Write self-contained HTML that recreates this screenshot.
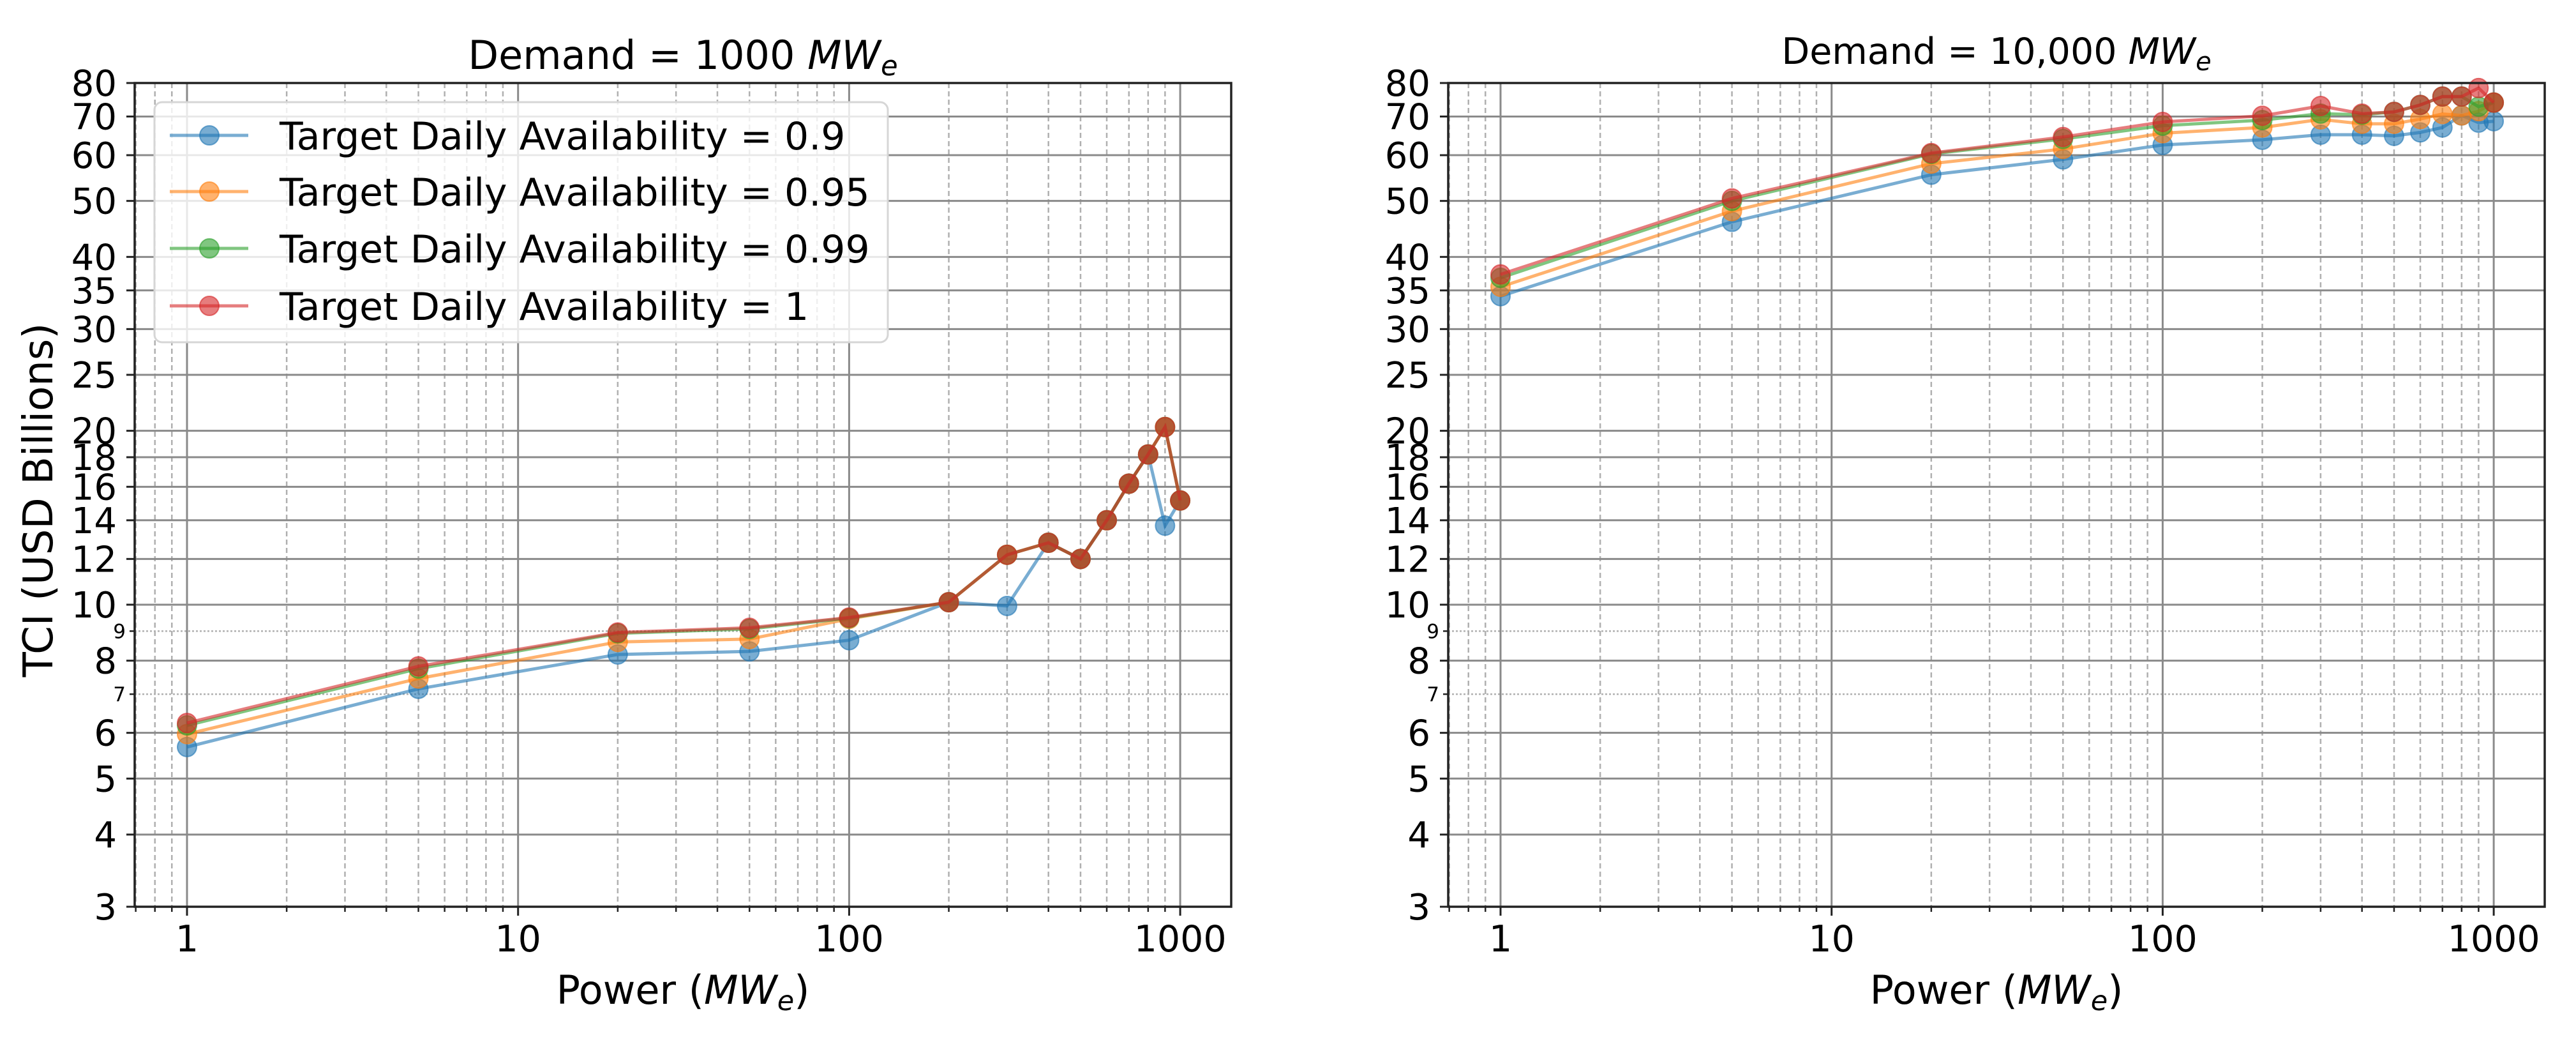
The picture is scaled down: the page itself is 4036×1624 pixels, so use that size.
<!DOCTYPE html>
<html><head><meta charset="utf-8"><style>
html,body{margin:0;padding:0;background:#fff;}
svg{display:block;font-family:"DejaVu Sans","Liberation Sans",sans-serif;}
</style></head><body>
<svg id="fig" width="4036" height="1624" viewBox="0 0 4036 1624" xmlns="http://www.w3.org/2000/svg"></svg>
<script>
const xValues = [1,5,20,50,100,200,300,400,500,600,700,800,900,1000];
const seriesNames = ["Target Daily Availability = 0.9","Target Daily Availability = 0.95","Target Daily Availability = 0.99","Target Daily Availability = 1"];
const seriesColors = ["#1f77b4","#ff7f0e","#2ca02c","#d62728"];
const left09  = [5.67,7.15,8.2,8.3,8.68,10.1,9.95,12.8,12.0,14.0,16.2,18.2,13.7,15.15];
const left095 = [5.97,7.45,8.62,8.72,9.45,10.1,12.2,12.8,12.0,14.0,16.2,18.2,20.3,15.15];
const left099 = [6.18,7.75,8.92,9.08,9.48,10.1,12.2,12.8,12.0,14.0,16.2,18.2,20.3,15.15];
const left1   = [6.24,7.82,8.95,9.12,9.5,10.1,12.2,12.8,12.0,14.0,16.2,18.2,20.3,15.15];
const right09  = [34.2,46.0,55.5,59.0,62.5,63.8,65.1,65.1,64.8,65.7,67.0,70.3,68.3,68.7];
const right095 = [35.5,48.0,58.0,61.5,65.5,67.0,69.2,68.0,68.0,69.3,70.7,70.3,71.5,74.0];
const right099 = [36.8,50.0,60.3,64.0,67.5,69.0,70.8,70.5,71.3,73.3,75.8,75.8,72.8,74.0];
const right1   = [37.3,50.5,60.5,64.5,68.5,70.2,73.0,70.8,71.3,73.3,75.8,75.8,78.4,74.0];
const yMajorTicks = [3,4,5,6,8,10,12,14,16,18,20,25,30,35,40,50,60,70,80];
const yMinorTicks = [7,9];
const xMajorTicks = [1,10,100,1000];
const xMajorLabels = ["1","10","100","1000"];

const NS="http://www.w3.org/2000/svg";
const svg=document.getElementById('fig');
function mk(tag,attrs,parent){const e=document.createElementNS(NS,tag);for(const k in attrs)e.setAttribute(k,attrs[k]);(parent||svg).appendChild(e);return e;}

function drawPanel(ox,title,titleSize,titleBase,series,showLegend,showYLabel,prefix){
  const L=ox+211,R=ox+1929,T=130,B=1420;
  const x1=ox+293,xDec=518.7;
  const yDec=(B-T)/Math.log10(80/3);
  const sx=v=>x1+Math.log10(v)*xDec;
  const sy=v=>B-Math.log10(v/3)*yDec;
  const g=mk('g',{});
  
  
  const xmin=Math.pow(10,(L-x1)/xDec), xmax=Math.pow(10,(R-x1)/xDec);
  for(let d=-1;d<=3;d++){for(let m=2;m<=9;m++){const v=m*Math.pow(10,d);if(v<xmin||v>xmax)continue;const x=sx(v);
    const ln=mk('line',{x1:x,x2:x,y1:T,y2:B,stroke:'#b0b0b0','stroke-width':2.5,'stroke-dasharray':'8,5'},g);
    
    mk('line',{x1:x,x2:x,y1:B,y2:B+8,stroke:'#222','stroke-width':2.5},g);}}
  yMinorTicks.forEach(v=>{const y=sy(v);
    const ln=mk('line',{x1:L,x2:R,y1:y,y2:y,stroke:'#b0b0b0','stroke-width':2.5,'stroke-dasharray':'3,3'},g);
    
    mk('line',{x1:L-8,x2:L,y1:y,y2:y,stroke:'#222','stroke-width':2.5},g);
    const t=mk('text',{x:L-14,y:y+11,'font-size':31,'text-anchor':'end',fill:'#000'},g);t.textContent=String(v);
    });
  xMajorTicks.forEach((v,i)=>{const x=sx(v);
    const ln=mk('line',{x1:x,x2:x,y1:T,y2:B,stroke:'#8a8a8a','stroke-width':3},g);
    
    mk('line',{x1:x,x2:x,y1:B,y2:B+14,stroke:'#222','stroke-width':3},g);
    const t=mk('text',{x:x,y:1490,'font-size':57,'text-anchor':'middle',fill:'#000'},g);t.textContent=xMajorLabels[i];
    });
  yMajorTicks.forEach(v=>{const y=sy(v);
    const ln=mk('line',{x1:L,x2:R,y1:y,y2:y,stroke:'#8a8a8a','stroke-width':3},g);
    
    mk('line',{x1:L-13,x2:L,y1:y,y2:y,stroke:'#222','stroke-width':3},g);
    const t=mk('text',{x:L-28,y:y+20,'font-size':56,'text-anchor':'end',fill:'#000'},g);t.textContent=String(v);
    });
  series.forEach((vals,si)=>{
    const sg=mk('g',{},g);
    
    const pts=vals.map((v,i)=>sx(xValues[i])+','+sy(v)).join(' ');
    const pl=mk('polyline',{points:pts,fill:'none',stroke:seriesColors[si],'stroke-width':5,'stroke-opacity':0.6},sg);
    
    vals.forEach((v,i)=>{const c=mk('circle',{cx:sx(xValues[i]),cy:sy(v),r:15,fill:seriesColors[si],'fill-opacity':0.6,stroke:seriesColors[si],'stroke-opacity':0.6,'stroke-width':2},sg);
      });
  });
  const sp=mk('rect',{x:L,y:T,width:R-L,height:B-T,fill:'none',stroke:'#222','stroke-width':3.5},g);
  
  const tt=mk('text',{x:(L+R)/2,y:titleBase,'font-size':titleSize,'text-anchor':'middle',fill:'#000'},g);
  tt.innerHTML=title+' <tspan font-style="italic">MW</tspan><tspan font-style="italic" font-size="'+(titleSize*0.7)+'" dy="10">e</tspan>';
  
  const xl=mk('text',{x:(L+R)/2,y:1572,'font-size':62,'text-anchor':'middle',fill:'#000'},g);
  xl.innerHTML='Power (<tspan font-style="italic">MW</tspan><tspan font-style="italic" font-size="43" dy="10">e</tspan><tspan dy="-10">)</tspan>';
  
  if(showYLabel){
    const yl=mk('text',{x:0,y:0,'font-size':64,'text-anchor':'middle',fill:'#000',transform:'translate(82,783) rotate(-90)'},g);
    yl.textContent='TCI (USD Billions)';
    
  }
  if(showLegend){
    const lg=mk('g',{},g);
    
    mk('rect',{x:242,y:160,width:1149,height:376,rx:12,fill:'#fff','fill-opacity':0.8,stroke:'#d6d6d6','stroke-width':3},lg);
    const ys=[212,300,389,479];
    seriesNames.forEach((n,i)=>{
      const e=mk('g',{},lg);
      
      mk('line',{x1:266,x2:389,y1:ys[i],y2:ys[i],stroke:seriesColors[i],'stroke-width':5,'stroke-opacity':0.6},e);
      mk('circle',{cx:328,cy:ys[i],r:15,fill:seriesColors[i],'fill-opacity':0.6,stroke:seriesColors[i],'stroke-opacity':0.6,'stroke-width':2},e);
      const t=mk('text',{x:438,y:ys[i]+22,'font-size':60,fill:'#000'},e);t.textContent=n;
      
    });
  }
}
drawPanel(0,'Demand = 1000',62,108,[left09,left095,left099,left1],true,true,'left');
drawPanel(2058,'Demand = 10,000',57,100,[right09,right095,right099,right1],false,false,'right');
</script>
</body></html>
